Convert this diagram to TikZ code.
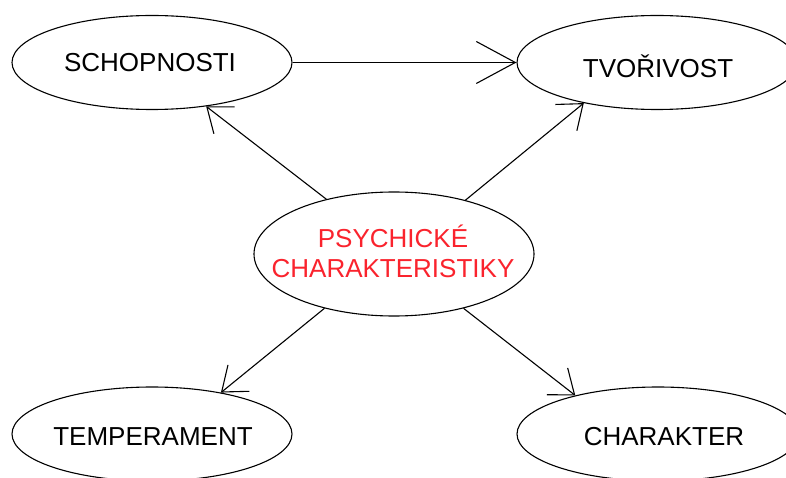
\documentclass[tikz,border=0pt]{standalone}
\usepackage{fontspec}
\setmainfont{Liberation Sans}
\usetikzlibrary{shapes.geometric,arrows.meta}
\definecolor{lblred}{RGB}{250,35,45}
\begin{document}
\begin{tikzpicture}[x=1pt,y=-1pt,
  oval/.style={ellipse,draw,line width=1.1pt,minimum width=280pt,minimum height=94pt,inner sep=0pt},
  lbl/.style={font=\fontsize{26}{30}\selectfont,inner sep=0pt,align=center,anchor=base},
  arr/.style={line width=1.1pt,-{Straight Barb[length=22pt,width=34pt]}},
  arrh/.style={line width=1.1pt,-{Straight Barb[length=39pt,width=42pt]}}]
\useasboundingbox (0,0) rectangle (786,478);
\clip (0,0) rectangle (786,478);
\fill[white] (0,0) rectangle (786,478);
\node[oval] (scho) at (152,62.5) {};
\node[oval] (tvo) at (657,62.5) {};
\node[oval,minimum height=124pt] (psy) at (394,254) {};
\node[oval] (temp) at (152,434) {};
\node[oval,minimum width=282pt] (char) at (658,434) {};
\node[lbl] (schot) at (150,72) {SCHOPNOSTI};
\node[lbl] (tvot) at (658,78) {TVOŘIVOST};
\node[lbl,text=lblred] (psyt) at (393,277) {PSYCHICKÉ\\CHARAKTERISTIKY};
\node[lbl] (tempt) at (153,445) {TEMPERAMENT};
\node[lbl] (chart) at (664,445) {CHARAKTER};
\draw[arrh] (scho.east) -- (tvo.west);
\draw[arr] (psy.141) -- (scho.321);
\draw[arr] (psy.37) -- (tvo.209.3);
\draw[arr] (psy.218) -- (temp.31.7);
\draw[arr] (psy.322) -- (char.155.4);
\end{tikzpicture}
\end{document}
